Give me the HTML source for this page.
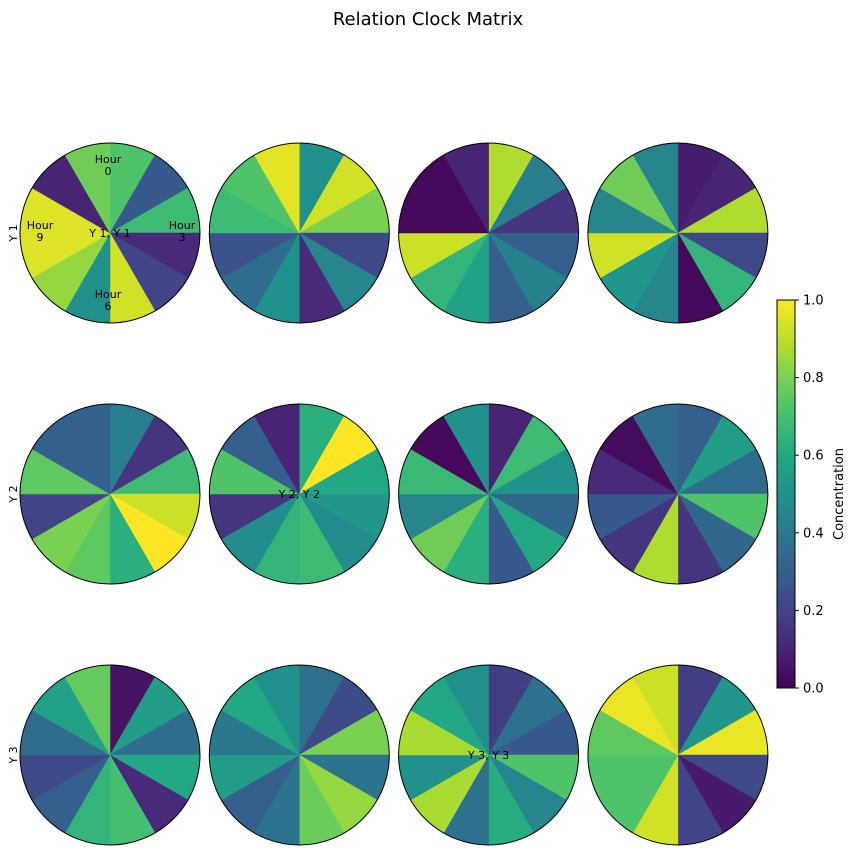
<!DOCTYPE html>
<html><head><meta charset="utf-8"><style>
body{margin:0;background:#fff;font-family:"Liberation Sans","DejaVu Sans",sans-serif}
</style></head><body>
<svg id="chart" width="856" height="855" xmlns="http://www.w3.org/2000/svg" font-family="DejaVu Sans, Liberation Sans, sans-serif">
<defs><linearGradient id="vg" x1="0" y1="1" x2="0" y2="0"></linearGradient></defs>
<text x="428" y="25" font-size="18" text-anchor="middle">Relation Clock Matrix</text>
<g id="clocks"></g>
<g id="cbar"></g>
</svg>
<script>
const rowLabels = ["Y 1","Y 2","Y 3"];
const hourLabels = ["0","3","6","9"];
const cbTicks = [0.0,0.2,0.4,0.6,0.8,1.0];
const clock_r1 = [
 [0.72,0.28,0.68,0.12,0.20,0.93,0.50,0.84,0.95,0.95,0.10,0.78],
 [0.50,0.93,0.80,0.22,0.45,0.12,0.50,0.35,0.25,0.68,0.72,0.96],
 [0.88,0.42,0.15,0.30,0.43,0.30,0.57,0.65,0.92,0.02,0.02,0.10],
 [0.08,0.10,0.88,0.22,0.65,0.02,0.45,0.52,0.93,0.45,0.78,0.45]];
const clock_r2 = [
 [0.42,0.15,0.68,0.92,1.00,0.63,0.75,0.80,0.20,0.75,0.30,0.30],
 [0.63,1.00,0.60,0.53,0.48,0.68,0.65,0.48,0.15,0.72,0.30,0.10],
 [0.10,0.68,0.50,0.33,0.60,0.28,0.63,0.78,0.45,0.67,0.02,0.50],
 [0.30,0.55,0.35,0.72,0.33,0.15,0.88,0.15,0.28,0.12,0.03,0.35]];
const clock_r3 = [
 [0.05,0.55,0.35,0.60,0.12,0.70,0.65,0.30,0.22,0.35,0.57,0.76],
 [0.37,0.23,0.80,0.38,0.84,0.77,0.38,0.30,0.55,0.40,0.60,0.50],
 [0.18,0.37,0.28,0.72,0.45,0.62,0.37,0.87,0.50,0.87,0.60,0.50],
 [0.18,0.52,0.97,0.22,0.07,0.20,0.93,0.72,0.72,0.75,0.97,0.92]];
const matrix=[clock_r1,clock_r2,clock_r3];
const VIR=["#440154","#482475","#414487","#355f8d","#2a788e","#21918c","#22a884","#44bf70","#7ad151","#bddf26","#fde725"];
function hx(h){return [1,3,5].map(i=>parseInt(h.substr(i,2),16));}
function viridis(v){v=Math.max(0,Math.min(1,v));const f=v*10,i=Math.min(9,Math.floor(f)),t=f-i;
 const a=hx(VIR[i]),b=hx(VIR[i+1]);return "rgb("+a.map((x,k)=>Math.round(x+(b[k]-x)*t)).join(",")+")";}
const NS="http://www.w3.org/2000/svg";
function mk(t,attrs,p){const e=document.createElementNS(NS,t);for(const k in attrs)e.setAttribute(k,attrs[k]);p.appendChild(e);return e;}
const colX=c=>110+c*189.3, rowY=r=>233+r*261, R=90;
const G=document.getElementById("clocks");
const ang=k=>(k*30-90)*Math.PI/180;
matrix.forEach((row,r)=>{
 const tl=mk("text",{x:17,y:rowY(r),"font-size":11,"text-anchor":"middle",transform:`rotate(-90 17 ${rowY(r)})`},G);
 
 
 tl.textContent=rowLabels[r];
 row.forEach((vals,c)=>{
  const cx=colX(c),cy=rowY(r);
  const g=mk("g",{},G);
  
  
  vals.forEach((v,k)=>{
   const a0=ang(k),a1=ang(k+1);
   const p=mk("path",{d:`M${cx},${cy}L${cx+R*Math.cos(a0)},${cy+R*Math.sin(a0)}A${R},${R} 0 0 1 ${cx+R*Math.cos(a1)},${cy+R*Math.sin(a1)}Z`,fill:viridis(v),stroke:viridis(v),"stroke-width":0.5},g);
   
   
  });
  mk("circle",{cx:cx,cy:cy,r:R,fill:"none",stroke:"#000","stroke-width":1},g);
  if(r===c){const t=mk("text",{x:cx,y:cy+4,"font-size":11,"text-anchor":"middle"},g);
   
   
   t.textContent=rowLabels[r]+", "+rowLabels[r];}
  if(r===0&&c===0){
   const pos=[[-2,-66],[72,0],[-2,69],[-70,0]];
   hourLabels.forEach((h,i)=>{const t=mk("text",{x:cx+pos[i][0],y:cy+pos[i][1]-4,"font-size":11,"text-anchor":"middle"},g);
    
    
    mk("tspan",{x:cx+pos[i][0],dy:0},t).textContent="Hour";
    mk("tspan",{x:cx+pos[i][0],dy:12},t).textContent=h;});
  }
 });
});
// colorbar
const CB=document.getElementById("cbar"),cbx=777,cbw=18,cby0=688,cby1=300;
const grad=document.getElementById("vg");
VIR.forEach((c,i)=>mk("stop",{offset:i/10,"stop-color":c},grad));
const rect=mk("rect",{x:cbx,y:cby1,width:cbw,height:cby0-cby1,fill:"url(#vg)",stroke:"#000","stroke-width":1},CB);


const cbY=v=>cby0-(cby0-cby1)*v;
cbTicks.forEach(v=>{mk("line",{x1:cbx+cbw,x2:cbx+cbw+4,y1:cbY(v),y2:cbY(v),stroke:"#000"},CB);
 const t=mk("text",{x:cbx+cbw+8,y:cbY(v)+4.5,"font-size":13},CB);
 
 
 t.textContent=v.toFixed(1);});
const cl=mk("text",{x:843,y:494,"font-size":13,"text-anchor":"middle",transform:"rotate(-90 843 494)"},CB);


cl.textContent="Concentration";
</script>
</body></html>
